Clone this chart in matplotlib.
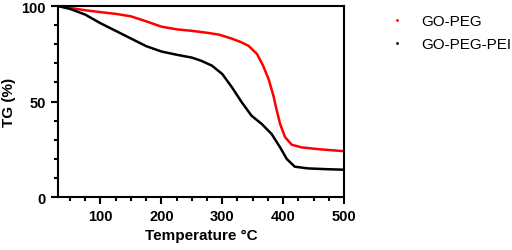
import matplotlib.pyplot as plt
from matplotlib.ticker import MultipleLocator

# temperature (°C) and TG (%)
temp_peg = [30, 50, 75, 100, 125, 150, 175, 200, 225, 250, 275, 295, 315, 330, 343,
            357, 367, 376, 384, 389, 395, 403, 414, 430, 460, 500]
tg_peg = [100, 99.0, 97.8, 96.8, 95.9, 94.6, 92.0, 89.2, 87.8, 87.0, 86.0, 85.0, 83.0,
          81.2, 79.2, 74.9, 68.8, 61.8, 53.0, 46.0, 38.2, 31.4, 27.4, 26.0, 25.0, 24.0]

temp_pei = [30, 50, 75, 100, 125, 150, 175, 200, 225, 250, 265, 283, 300, 316, 332,
            348, 365, 381, 395, 406, 419, 440, 470, 500]
tg_pei = [100, 98.5, 95.5, 91.0, 87.0, 83.0, 79.0, 76.2, 74.5, 73.0, 71.4, 68.8, 64.4,
          57.4, 49.6, 42.6, 38.2, 33.0, 26.0, 19.9, 15.9, 15.0, 14.6, 14.3]

plt.rcParams['font.family'] = ['Liberation Sans', 'DejaVu Sans']

fig = plt.figure(figsize=(5.12, 2.51), dpi=100)
ax = fig.add_axes([0.113, 0.211, 0.559, 0.761])

ax.plot(temp_peg, tg_peg, color='#ff0000', lw=1.8, label='GO-PEG')
ax.plot(temp_pei, tg_pei, color='black', lw=1.8, label='GO-PEG-PEI')

ax.set_xlim(30, 500)
ax.set_ylim(0, 100)
ax.set_xticks([100, 200, 300, 400, 500])
ax.set_yticks([0, 50, 100])
ax.xaxis.set_minor_locator(MultipleLocator(25))
ax.yaxis.set_minor_locator(MultipleLocator(10))
ax.tick_params(which='major', length=5, width=1.5, labelsize=10.5)
ax.tick_params(which='minor', length=3, width=1.5)
for lab in ax.get_xticklabels() + ax.get_yticklabels():
    lab.set_fontweight('bold')
for s in ax.spines.values():
    s.set_linewidth(1.5)

ax.set_xlabel('Temperature °C', fontsize=11, fontweight='bold')
ax.set_ylabel('TG (%)', fontsize=11, fontweight='bold')

leg = ax.legend(loc='upper left', bbox_to_anchor=(1.12, 1.03), frameon=False,
                handlelength=0.6, fontsize=11, labelspacing=0.6, handletextpad=1.3)
for h in leg.get_lines():
    h.set_linestyle('none')
    h.set_marker('.')
    h.set_markersize(2)

fig.savefig('out.png', dpi=100)
